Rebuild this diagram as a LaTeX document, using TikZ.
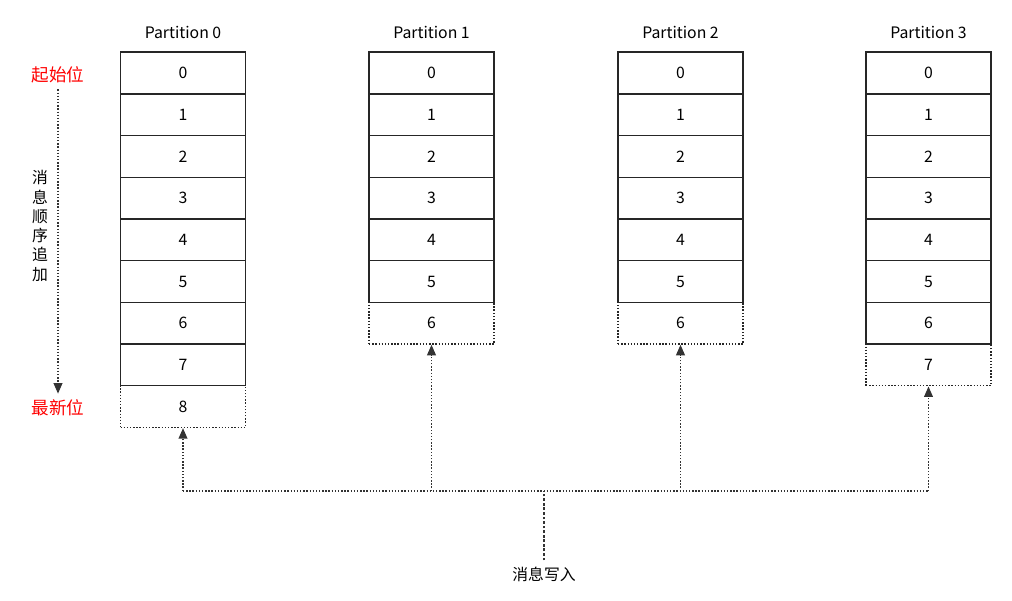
\documentclass[tikz,border=0pt]{standalone}
\usepackage{fontspec}
\setmainfont{Noto Sans CJK SC}
\usetikzlibrary{arrows.meta}
\tikzset{
  cell/.style={shape=rectangle,draw=black!85,thick,minimum width=2.5cm,minimum height=0.834cm,inner sep=0pt,font=\small},
  newcell/.style={cell,densely dotted},
  feed/.style={densely dotted,thick,draw=black!80},
}
\begin{document}
\begin{tikzpicture}[x=0.02cm,y=-0.02cm]
\useasboundingbox (0,0) rectangle (1012,601);
% partitions
\foreach \p/\x/\n in {0/183/8, 1/431.5/6, 2/680.5/6, 3/928.5/7}{
  \node[font=\small] (title\p) at (\x,32) {Partition \p};
  \pgfmathtruncatemacro{\last}{\n-1}
  \foreach \r in {0,...,\last}{
    \node[cell] (c\p\r) at (\x,{73+41.7*\r}) {\r};
  }
  \node[newcell] (c\p\n) at (\x,{73+41.7*\n}) {\n};
}
% left side
\node[text=red] (start) at (58,75) {起始位};
\node[text=red] (latest) at (58,408) {最新位};
\draw[feed,-{Triangle[length=6pt,width=5pt]}] (start.south) -- (latest.north);
\node[font=\small,align=center,inner sep=0pt] (order) at (40,226) {消\\息\\顺\\序\\追\\加};
% write path
\node[font=\small] (write) at (544,574) {消息写入};
\coordinate (hub) at (544,491);
\coordinate (j0) at (183,491);
\coordinate (j1) at (431.5,491);
\coordinate (j2) at (680.5,491);
\coordinate (j3) at (928.5,491);
\draw[feed,line width=1.6pt] (write.north) -- (hub);
\draw[feed] (j0) -- (j3);
\draw[feed,-{Triangle[length=6pt,width=5pt]}] (j0) -- (c08.south);
\draw[feed,-{Triangle[length=6pt,width=5pt]}] (j1) -- (c16.south);
\draw[feed,-{Triangle[length=6pt,width=5pt]}] (j2) -- (c26.south);
\draw[feed,-{Triangle[length=6pt,width=5pt]}] (j3) -- (c37.south);
\end{tikzpicture}
\end{document}
